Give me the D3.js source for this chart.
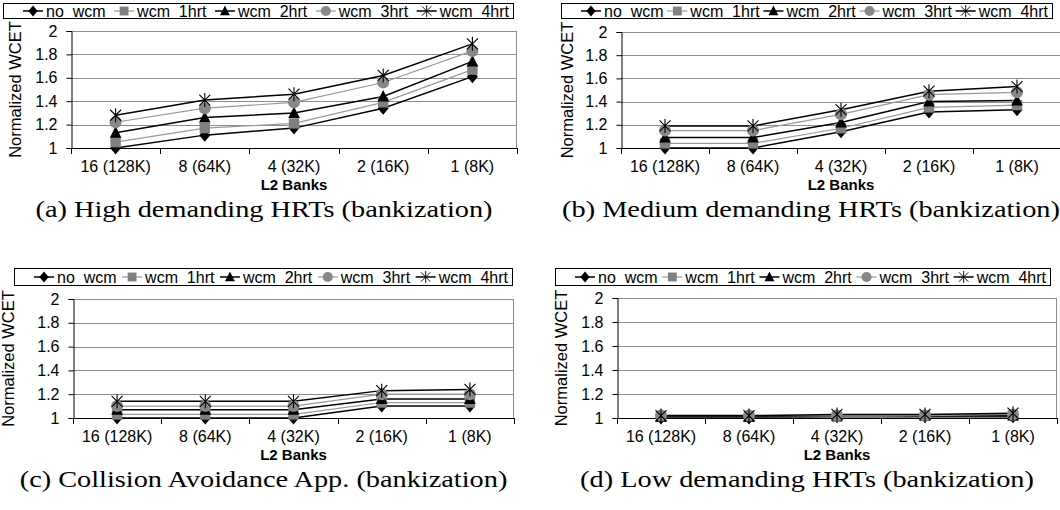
<!DOCTYPE html>
<html>
<head>
<meta charset="utf-8">
<style>
body { margin: 0; background: white; }
.tick-label { font-family: "Liberation Sans", Arial, sans-serif; font-size: 16px; }
.legend-text { font-family: "Liberation Sans", Arial, sans-serif; font-size: 16px; white-space: pre; }
.axis-title { font-family: "Liberation Sans", Arial, sans-serif; font-size: 16.5px; }
.x-title { font-family: "Liberation Sans", Arial, sans-serif; font-size: 15px; font-weight: bold; }
.caption { font-family: "Liberation Serif", "DejaVu Serif", serif; font-size: 24px; }
</style>
<script src="https://d3js.org/d3.v7.min.js" charset="utf-8"></script>
</head>
<body>
<svg id="chart" width="1060" height="510"></svg>
<script>
var categories = ["16 (128K)", "8 (64K)", "4 (32K)", "2 (16K)", "1 (8K)"];
var seriesNames = ["no  wcm", "wcm  1hrt", "wcm  2hrt", "wcm  3hrt", "wcm  4hrt"];
var yTicks = [1, 1.2, 1.4, 1.6, 1.8, 2];
var captions = ["(a) High demanding HRTs (bankization)",
                "(b) Medium demanding HRTs (bankization)",
                "(c) Collision Avoidance App. (bankization)",
                "(d) Low demanding HRTs (bankization)"];

// one row per series: no wcm, wcm 1hrt, wcm 2hrt, wcm 3hrt, wcm 4hrt
var highDemanding = [[1.00, 1.11, 1.17, 1.34, 1.61],
                     [1.05, 1.17, 1.21, 1.39, 1.67],
                     [1.13, 1.26, 1.30, 1.44, 1.74],
                     [1.22, 1.34, 1.39, 1.56, 1.83],
                     [1.28, 1.41, 1.46, 1.62, 1.89]];
var mediumDemanding = [[1.00, 1.00, 1.14, 1.31, 1.33],
                       [1.04, 1.04, 1.17, 1.35, 1.37],
                       [1.09, 1.09, 1.22, 1.40, 1.41],
                       [1.15, 1.15, 1.29, 1.46, 1.48],
                       [1.19, 1.19, 1.33, 1.49, 1.53]];
var collisionAvoidance = [[1.00, 1.00, 1.00, 1.10, 1.10],
                          [1.03, 1.03, 1.03, 1.13, 1.13],
                          [1.07, 1.07, 1.07, 1.16, 1.16],
                          [1.10, 1.10, 1.10, 1.20, 1.20],
                          [1.14, 1.14, 1.14, 1.23, 1.24]];
var lowDemanding = [[1.00, 1.00, 1.01, 1.01, 1.01],
                    [1.01, 1.01, 1.01, 1.02, 1.02],
                    [1.01, 1.01, 1.02, 1.02, 1.02],
                    [1.02, 1.02, 1.02, 1.02, 1.03],
                    [1.02, 1.02, 1.03, 1.03, 1.04]];

var panels = [
  {data: highDemanding, legend: [3, 3, 510, 15], plot: [71, 31, 517, 148], labelX: 15, caption: captions[0]},
  {data: mediumDemanding, legend: [561, 3, 491, 15], plot: [621, 32, 1061, 148], labelX: 567, caption: captions[1]},
  {data: collisionAvoidance, legend: [14, 268, 498, 17], plot: [73, 299, 514, 418], labelX: 8, caption: captions[2]},
  {data: lowDemanding, legend: [555, 268, 495, 17], plot: [617, 298, 1057, 418], labelX: 561, caption: captions[3]}
];

var lineColor = ["#000", "#999", "#000", "#999", "#000"];
var lineWidth = [1.5, 1.2, 1.5, 1.2, 1.5];

var svg = d3.select("#chart");
svg.append("rect").attr("width", 1060).attr("height", 510).attr("fill", "white");

function drawMarker(g, i) {
    if (i == 0) {
        g.append("path").attr("d", "M0,-6.5L5.5,0L0,6.5L-5.5,0Z").attr("fill", "#000");
    } else if (i == 1) {
        g.append("rect").attr("x", -5.2).attr("y", -5.2).attr("width", 10.4).attr("height", 10.4).attr("fill", "#808080");
    } else if (i == 2) {
        g.append("path").attr("d", "M0,-6.5L5.8,5L-5.8,5Z").attr("fill", "#000");
    } else if (i == 3) {
        g.append("circle").attr("r", 6).attr("fill", "#888");
    } else {
        g.append("path").attr("d", "M-5.5,-5.5L5.5,5.5M-5.5,5.5L5.5,-5.5M0,-7L0,7")
            .attr("stroke", "#000").attr("stroke-width", 1.1).attr("fill", "none");
    }
}

panels.forEach(function(p) {
    var g = svg.append("g");
    var x0 = p.plot[0], y0 = p.plot[1], x1 = p.plot[2], y1 = p.plot[3];

    var x = d3.scaleBand().domain(categories).range([x0, x1]);
    var y = d3.scaleLinear().domain([1, 2]).range([y1, y0]);

    // legend box
    var lb = p.legend;
    g.append("rect").attr("x", lb[0] + 0.5).attr("y", lb[1] + 0.5)
        .attr("width", lb[2]).attr("height", lb[3])
        .attr("fill", "white").attr("stroke", "#000").attr("stroke-width", 1);
    var items = g.append("g");
    var widths = [];
    seriesNames.forEach(function(name, i) {
        var it = items.append("g");
        var t = it.append("text").attr("class", "legend-text")
            .attr("x", 23).attr("y", lb[1] + lb[3] / 2 + 6)
            .text(name);
        widths.push(23 + t.node().getComputedTextLength());
    });
    var total = d3.sum(widths);
    var gap = (lb[2] - 24 - total) / 4;
    var cx = lb[0] + 20;
    items.selectAll("g").each(function(d, i) {
        var it = d3.select(this).attr("transform", "translate(" + cx + ",0)");
        var my = lb[1] + lb[3] / 2 + 0.5;
        it.append("line").attr("x1", 0).attr("x2", 20).attr("y1", my).attr("y2", my)
            .attr("stroke", lineColor[i]).attr("stroke-width", lineWidth[i]);
        var m = it.append("g").attr("transform", "translate(10," + my + ") scale(0.85)");
        drawMarker(m, i);
        cx += widths[i] + gap;
    });

    // grid lines
    g.selectAll(".grid").data(yTicks.slice(1)).enter().append("line")
        .attr("x1", x0).attr("x2", x1)
        .attr("y1", function(d) { return Math.round(y(d)) + 0.5; })
        .attr("y2", function(d) { return Math.round(y(d)) + 0.5; })
        .attr("stroke", "#8c8c8c").attr("stroke-width", 1);
    g.append("line").attr("x1", x1 - 0.5).attr("x2", x1 - 0.5).attr("y1", y0).attr("y2", y1)
        .attr("stroke", "#8c8c8c");

    // y axis
    var yAxis = d3.axisLeft(y).tickValues(yTicks).tickSize(5).tickPadding(9)
        .tickFormat(function(d) { return d3.format("")(+d.toFixed(1)); });
    var ya = g.append("g").attr("transform", "translate(" + (x0 + 0.5) + ",0)").call(yAxis);
    ya.select(".domain").attr("stroke", "#000");
    ya.selectAll("text").attr("class", "tick-label").attr("font-size", null)
        .attr("font-family", null).attr("fill", "#000");

    // x axis with ticks at category boundaries
    var xAxis = d3.axisBottom(x).tickSize(0).tickPadding(12);
    var xa = g.append("g").attr("transform", "translate(0," + (y1 + 0.5) + ")").call(xAxis);
    xa.select(".domain").remove();
    xa.selectAll("text").attr("class", "tick-label").attr("font-size", null)
        .attr("font-family", null).attr("fill", "#000");
    var bounds = categories.map(function(c) { return x(c); }).concat([x1]);
    g.append("line").attr("x1", x0).attr("x2", x1).attr("y1", y1 + 0.5).attr("y2", y1 + 0.5)
        .attr("stroke", "#000").attr("stroke-width", 1.2);
    g.selectAll(".xtick").data(bounds).enter().append("line")
        .attr("x1", function(d) { return Math.round(d) + 0.5; })
        .attr("x2", function(d) { return Math.round(d) + 0.5; })
        .attr("y1", y1).attr("y2", y1 + 6)
        .attr("stroke", "#000");

    // titles
    g.append("text").attr("class", "axis-title")
        .attr("transform", "translate(" + (p.labelX + 6) + "," + ((y0 + y1) / 2) + ") rotate(-90)")
        .attr("text-anchor", "middle").text("Normalized WCET");
    g.append("text").attr("class", "x-title")
        .attr("x", (x0 + x1) / 2).attr("y", y1 + 42)
        .attr("text-anchor", "middle").text("L2 Banks");
    g.append("text").attr("class", "caption")
        .attr("transform", "translate(" + ((x0 + x1) / 2 - 30) + "," + (y1 + 69) + ") scale(1.18,1)")
        .attr("text-anchor", "middle").text(p.caption);

    // series lines and markers
    var line = d3.line()
        .x(function(d, i) { return x(categories[i]) + x.bandwidth() / 2; })
        .y(function(d) { return y(d); });
    p.data.forEach(function(vals, s) {
        g.append("path").datum(vals).attr("d", line)
            .attr("fill", "none").attr("stroke", lineColor[s]).attr("stroke-width", lineWidth[s]);
    });
    p.data.forEach(function(vals, s) {
        vals.forEach(function(v, i) {
            var m = g.append("g").attr("transform", "translate(" +
                (x(categories[i]) + x.bandwidth() / 2) + "," + y(v) + ")");
            drawMarker(m, s);
        });
    });
});
</script>
</body>
</html>
